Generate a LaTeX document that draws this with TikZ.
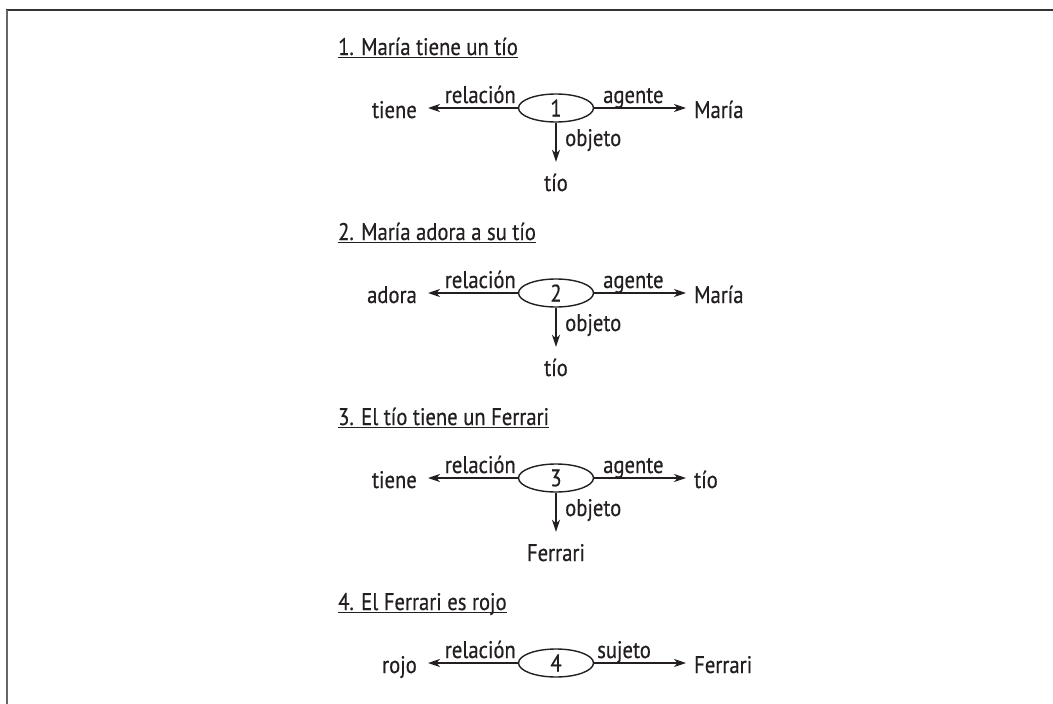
\documentclass[tikz,border=0pt]{standalone}
\usepackage{fontspec}
\setmainfont[FakeStretch=0.86,FakeBold=0.5]{PT Sans}
\usetikzlibrary{arrows.meta,shapes.geometric}
\definecolor{ink}{HTML}{231F20}
\tikzset{
  lbl/.style={font=\fontsize{24}{28}\selectfont, text=ink, inner sep=0pt},
  ttl/.style={lbl, anchor=base west},
  uline/.style={draw=ink, line width=1.5pt},
  ell/.style={ellipse, draw=ink, line width=1.4pt, minimum width=75pt, minimum height=28pt, inner sep=0pt, font=\fontsize{24}{28}\selectfont, text=ink},
  arr/.style={draw=ink, line width=1.5pt, -{Stealth[length=12pt,width=8pt,inset=3.5pt]}},
  bot/.style={lbl, anchor=base, text height=14pt, text depth=0pt},
}
\begin{document}
\begin{tikzpicture}[x=1pt,y=-1pt]
\useasboundingbox (0,0) rectangle (1053,704);
% frame
\draw[line width=2pt, color=black!80] (6,10) -- (1053,10);
\draw[line width=2pt, color=black!60] (7,10) -- (7,704);

% ---- block 1 ----
\node[ttl] (t1) at (338,55) {1. María tiene un tío};
\draw[uline] ([yshift=-2.5pt]t1.base west) -- ([yshift=-2.5pt]t1.base east);
\node[ell] (e1) at (556,108) {1};
\node[lbl, anchor=base east] (l1) at (417,118) {tiene};
\node[lbl, anchor=base west] (r1) at (694,118) {María};
\node[bot] (b1) at (556,191) {tío};
\draw[arr, shorten >=11pt] (e1.west) -- (e1.west -| l1.east);
\draw[arr, shorten >=8pt] (e1.east) -- (e1.east -| r1.west);
\draw[arr, shorten >=15pt] (e1.south) -- (e1.south |- b1.north);
\node[lbl, anchor=base east] (lr1) at (516,103) {relación};
\node[lbl, anchor=base west] (la1) at (603,103) {agente};
\node[lbl, anchor=base west] (lo1) at (565,146) {objeto};

% ---- block 2 ----
\node[ttl] (t2) at (338,240) {2. María adora a su tío};
\draw[uline] ([yshift=-2.5pt]t2.base west) -- ([yshift=-2.5pt]t2.base east);
\node[ell] (e2) at (556,293) {2};
\node[lbl, anchor=base east] (l2) at (417,303) {adora};
\node[lbl, anchor=base west] (r2) at (694,303) {María};
\node[bot] (b2) at (556,376) {tío};
\draw[arr, shorten >=11pt] (e2.west) -- (e2.west -| l2.east);
\draw[arr, shorten >=8pt] (e2.east) -- (e2.east -| r2.west);
\draw[arr, shorten >=15pt] (e2.south) -- (e2.south |- b2.north);
\node[lbl, anchor=base east] (lr2) at (516,288) {relación};
\node[lbl, anchor=base west] (la2) at (603,288) {agente};
\node[lbl, anchor=base west] (lo2) at (565,331) {objeto};

% ---- block 3 ----
\node[ttl] (t3) at (338,425) {3. El tío tiene un Ferrari};
\draw[uline] ([yshift=-2.5pt]t3.base west) -- ([yshift=-2.5pt]t3.base east);
\node[ell] (e3) at (556,478) {3};
\node[lbl, anchor=base east] (l3) at (417,488) {tiene};
\node[lbl, anchor=base west] (r3) at (694,488) {tío};
\node[bot] (b3) at (556,561) {Ferrari};
\draw[arr, shorten >=11pt] (e3.west) -- (e3.west -| l3.east);
\draw[arr, shorten >=8pt] (e3.east) -- (e3.east -| r3.west);
\draw[arr, shorten >=15pt] (e3.south) -- (e3.south |- b3.north);
\node[lbl, anchor=base east] (lr3) at (516,473) {relación};
\node[lbl, anchor=base west] (la3) at (603,473) {agente};
\node[lbl, anchor=base west] (lo3) at (565,516) {objeto};

% ---- block 4 ----
\node[ttl] (t4) at (338,610) {4. El Ferrari es rojo};
\draw[uline] ([yshift=-2.5pt]t4.base west) -- ([yshift=-2.5pt]t4.base east);
\node[ell] (e4) at (556,663) {4};
\node[lbl, anchor=base east] (l4) at (417,673) {rojo};
\node[lbl, anchor=base west] (r4) at (694,673) {Ferrari};
\draw[arr, shorten >=11pt] (e4.west) -- (e4.west -| l4.east);
\draw[arr, shorten >=8pt] (e4.east) -- (e4.east -| r4.west);
\node[lbl, anchor=base east] (lr4) at (516,658) {relación};
\node[lbl, anchor=base west] (ls4) at (597,658) {sujeto};
\end{tikzpicture}
\end{document}
